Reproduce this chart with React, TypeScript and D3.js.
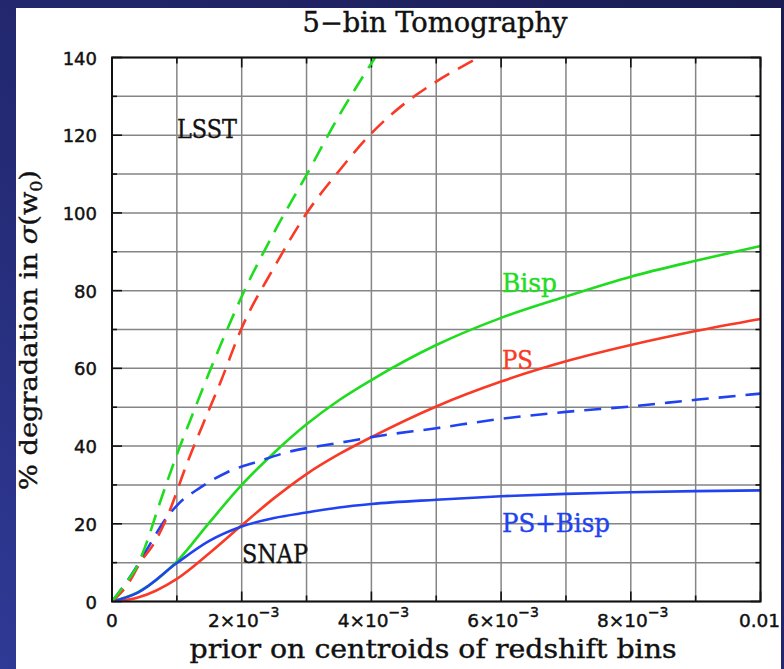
import React from "react";
import * as d3 from "d3";

// Prior width on the redshift-bin centroids (x) and % degradation in sigma(w0) (y)
const snapBispX = [0, 0.0004, 0.001, 0.0015, 0.002, 0.0025, 0.003, 0.0035, 0.004, 0.005, 0.006, 0.007, 0.008, 0.009, 0.01];
const snapBispY = [0, 2.4, 10.3, 20.3, 30, 38.3, 45.6, 51.8, 57, 66, 73, 78.5, 83.6, 87.7, 91.5];

const snapPsX = [0, 0.0004, 0.001, 0.0015, 0.002, 0.0025, 0.003, 0.0035, 0.004, 0.005, 0.006, 0.007, 0.008, 0.009, 0.01];
const snapPsY = [0, 1.0, 5.8, 12.4, 19.6, 26.6, 32.8, 37.9, 42.3, 50.2, 56.6, 61.8, 66, 69.6, 72.7];

const snapBothX = [0, 0.0004, 0.001, 0.0015, 0.002, 0.0025, 0.003, 0.0035, 0.004, 0.005, 0.006, 0.007, 0.008, 0.009, 0.01];
const snapBothY = [0, 2.3, 9.9, 15.6, 19.3, 21.5, 22.9, 24.2, 25.1, 26.2, 27.1, 27.7, 28.1, 28.4, 28.6];

const lsstBispX = [0, 0.00025, 0.0004, 0.0005, 0.00075, 0.001, 0.00125, 0.0015, 0.00175, 0.002, 0.0025, 0.003, 0.0035, 0.004, 0.0045];
const lsstBispY = [0, 5.6, 9.5, 13.6, 26, 37.8, 48.5, 59, 69, 78.5, 95, 109.8, 125, 138.5, 151];

const lsstPsX = [0, 0.00025, 0.00045, 0.00065, 0.0009, 0.001, 0.0011, 0.0014, 0.00167, 0.002, 0.0025, 0.003, 0.0035, 0.004, 0.0045, 0.005, 0.0055, 0.006];
const lsstPsY = [0, 4.6, 10.4, 15, 23.8, 28.3, 33, 45.5, 56.3, 70.4, 86, 99.9, 110.8, 120.5, 128, 133.8, 138.6, 143];

const lsstBothX = [0, 0.0003, 0.00056, 0.0008, 0.001, 0.00136, 0.00177, 0.00228, 0.00277, 0.0032, 0.00367, 0.004, 0.005, 0.006, 0.007, 0.008, 0.009, 0.01];
const lsstBothY = [0, 6.9, 14, 20.6, 24.7, 29.3, 33.2, 36.2, 38.7, 40, 41.3, 42.3, 44.6, 47, 48.8, 50.2, 51.9, 53.5];

const xTicks = [0, 0.002, 0.004, 0.006, 0.008, 0.01];
const xTickMantissa = ["0", "2", "4", "6", "8", "0.01"];
const yTicks = [0, 20, 40, 60, 80, 100, 120, 140];

const GREEN = "#1fdc1f";
const RED = "#f83a26";
const BLUE = "#2142f0";

const W = 784;
const H = 669;
const left = 112;
const right = 760.5;
const top = 57.5;
const bottom = 601.5;

const serif = "'DejaVu Serif', 'Liberation Serif', serif";
const sans = "'DejaVu Sans', 'Liberation Sans', sans-serif";

export default function App() {
  const x = d3.scaleLinear().domain([0, 0.01]).range([left, right]);
  const y = d3.scaleLinear().domain([0, 140]).range([bottom, top]);

  const mk = (xs: number[], ys: number[]) =>
    d3
      .line<number>()
      .x((_, i) => x(xs[i]))
      .y((_, i) => y(ys[i]))
      .curve(d3.curveMonotoneX)(ys as any) as string;

  const series = [
    { xs: snapPsX, ys: snapPsY, color: RED, dash: undefined },
    { xs: snapBispX, ys: snapBispY, color: GREEN, dash: undefined },
    { xs: snapBothX, ys: snapBothY, color: BLUE, dash: undefined },
    { xs: lsstBothX, ys: lsstBothY, color: BLUE, dash: "17 10" },
    { xs: lsstPsX, ys: lsstPsY, color: RED, dash: "17 10" },
    { xs: lsstBispX, ys: lsstBispY, color: GREEN, dash: "17 10" },
  ];

  const xGrid = d3.range(0, 11).map((i) => i * 0.001);
  const yGrid = d3.range(0, 15).map((i) => i * 10);

  return (
    <div style={{ position: "fixed", left: 0, top: 0 }}>
      <svg width={W} height={H} style={{ display: "block" }}>
        <defs>
          <linearGradient id="bg" x1="1" y1="0" x2="0" y2="1">
            <stop offset="0" stopColor="#1a1c52" />
            <stop offset="0.6" stopColor="#242a74" />
            <stop offset="1" stopColor="#2f3a96" />
          </linearGradient>
          <clipPath id="plotClip">
            <rect x={left} y={top} width={right - left} height={bottom - top} />
          </clipPath>
        </defs>
        <rect x={0} y={0} width={W} height={H} fill="url(#bg)" />
        <rect x={16} y={8} width={765} height={H - 8} fill="#ffffff" />

        {/* grid */}
        <g stroke="#858585" strokeWidth={1.5}>
          {xGrid.map((v) => (
            <line key={"gx" + v} x1={x(v)} x2={x(v)} y1={top} y2={bottom} />
          ))}
          {yGrid.map((v) => (
            <line key={"gy" + v} x1={left} x2={right} y1={y(v)} y2={y(v)} />
          ))}
        </g>

        {/* ticks */}
        <g stroke="#111" strokeWidth={1.6}>
          {yGrid.map((v) => {
            const len = v % 20 === 0 ? 10 : 5;
            return (
              <g key={"ty" + v}>
                <line x1={left} x2={left + len} y1={y(v)} y2={y(v)} />
                <line x1={right} x2={right - len} y1={y(v)} y2={y(v)} />
              </g>
            );
          })}
          {xGrid.map((v, i) => {
            const len = i % 2 === 0 ? 10 : 6;
            return (
              <g key={"tx" + v}>
                <line x1={x(v)} x2={x(v)} y1={bottom} y2={bottom - len} />
                <line x1={x(v)} x2={x(v)} y1={top} y2={top + len} />
              </g>
            );
          })}
        </g>

        {/* curves */}
        <g clipPath="url(#plotClip)" fill="none" strokeWidth={2.6} strokeLinejoin="round">
          {series.map((s, i) => (
            <path key={i} d={mk(s.xs, s.ys)} stroke={s.color} strokeDasharray={s.dash} />
          ))}
        </g>

        {/* frame */}
        <rect x={left} y={top} width={right - left} height={bottom - top} fill="none" stroke="#111" strokeWidth={2} />

        {/* y tick labels */}
        <g fontFamily={sans} fontSize={18} fill="#111" stroke="#111" strokeWidth={0.45} textAnchor="end">
          {yTicks.map((v) => (
            <text key={"ly" + v} x={97} y={y(v) + 7}>
              {v}
            </text>
          ))}
        </g>

        {/* x tick labels */}
        <g fontFamily={sans} fontSize={18.5} fill="#111" stroke="#111" strokeWidth={0.45} textAnchor="middle">
          {xTicks.map((v, i) => {
            const m = xTickMantissa[i];
            if (v === 0 || v === 0.01) {
              return (
                <text key={"lx" + v} x={x(v) - (v === 0 ? 0 : 1)} y={627}>
                  {m}
                </text>
              );
            }
            return (
              <text key={"lx" + v} x={x(v) + 2} y={627}>
                {m}×10
                <tspan fontSize={14} dy={-10}>−3</tspan>
              </text>
            );
          })}
        </g>

        {/* title and axis titles */}
        <g fill="#111" stroke="#111" strokeWidth={0.4}>
          <text x={435} y={32} fontFamily={serif} fontSize={27} textAnchor="middle" textLength={265} lengthAdjust="spacingAndGlyphs">
            5−bin Tomography
          </text>
          <text x={433} y={658} fontFamily={serif} fontSize={26} textAnchor="middle" textLength={487} lengthAdjust="spacingAndGlyphs">
            prior on centroids of redshift bins
          </text>
          <text
            transform={`translate(37,${330}) rotate(-90)`}
            fontFamily={serif}
            fontSize={25}
            textAnchor="middle"
            textLength={320}
            lengthAdjust="spacingAndGlyphs"
          >
            % degradation in <tspan fontStyle="italic">σ</tspan>(w<tspan fontSize={16} dy={5}>0</tspan><tspan dy={-5}>)</tspan>
          </text>
        </g>

        {/* in-plot labels */}
        <g fontFamily={serif} fontSize={26} strokeWidth={0.4}>
          <text x={177} y={137.5} fill="#111" stroke="#111" textLength={60} lengthAdjust="spacingAndGlyphs">LSST</text>
          <text x={242} y={563} fill="#111" stroke="#111" textLength={66} lengthAdjust="spacingAndGlyphs">SNAP</text>
          <text x={502} y={291.5} fill={GREEN} stroke={GREEN} textLength={55} lengthAdjust="spacingAndGlyphs">Bisp</text>
          <text x={502} y={368.5} fill={RED} stroke={RED} textLength={31} lengthAdjust="spacingAndGlyphs">PS</text>
          <text x={502} y={531.5} fill={BLUE} stroke={BLUE} textLength={108} lengthAdjust="spacingAndGlyphs">PS+Bisp</text>
        </g>
      </svg>
    </div>
  );
}
